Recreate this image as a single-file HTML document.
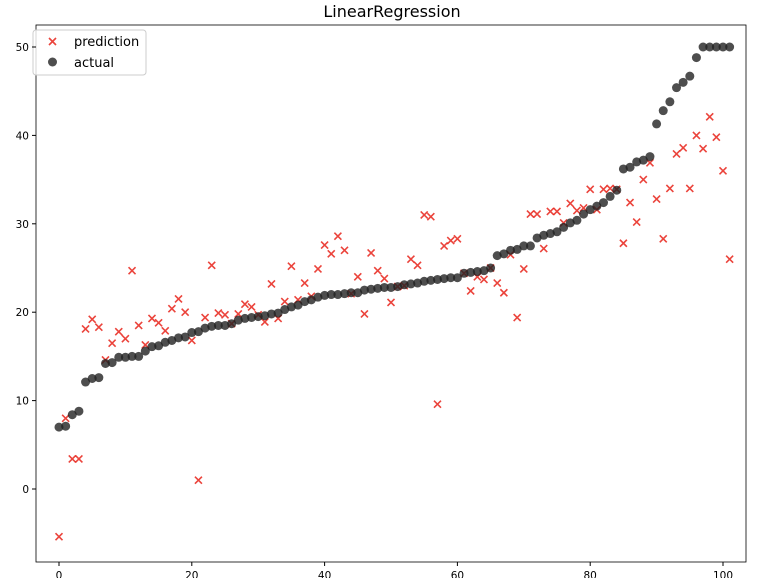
<!DOCTYPE html>
<html><head><meta charset="utf-8"><style>
body{margin:0;background:#fff;font-family:"Liberation Sans","DejaVu Sans",sans-serif}
svg text{font-family:"DejaVu Sans","Liberation Sans",sans-serif}
</style></head><body>
<svg id="chart" width="765" height="578" xmlns="http://www.w3.org/2000/svg">
<rect width="765" height="578" fill="#fff"/>
<text x="392" y="17" text-anchor="middle" font-size="16">LinearRegression</text>
<g id="plot"></g>
<rect x="36" y="25" width="710" height="537" fill="none" stroke="#000" stroke-width="0.8"/>
<g>
<rect x="33" y="30" width="113" height="45" rx="3" fill="#fff" fill-opacity="0.8" stroke="#ccc"/>
<g>
<path d="M49,38 l7,7 M56,38 l-7,7" stroke="#e8231a" stroke-opacity="0.85" stroke-width="1.6"/>
<text x="74" y="46" font-size="13">prediction</text></g>
<g>
<circle cx="52.5" cy="62" r="4.5" fill="#222" fill-opacity="0.8"/>
<text x="74" y="67" font-size="13">actual</text></g>
</g>
</svg>
<script>
const actual=[7.0,7.1,8.4,8.8,12.1,12.5,12.6,14.2,14.3,14.9,14.9,15.0,15.0,15.6,16.1,16.2,16.6,16.8,17.1,17.2,17.7,17.8,18.2,18.4,18.5,18.5,18.7,19.1,19.3,19.4,19.5,19.6,19.8,19.9,20.3,20.6,20.8,21.2,21.4,21.7,21.9,22.0,22.0,22.1,22.2,22.2,22.5,22.6,22.7,22.8,22.8,22.9,23.1,23.2,23.3,23.5,23.6,23.7,23.8,23.9,23.9,24.4,24.5,24.6,24.7,25.0,26.4,26.6,27.0,27.1,27.5,27.5,28.4,28.7,28.9,29.1,29.6,30.1,30.4,31.1,31.6,32.0,32.4,33.1,33.8,36.2,36.4,37.0,37.2,37.6,41.3,42.8,43.8,45.4,46.0,46.7,48.8,50,50,50,50,50];
const prediction=[-5.4,8.0,3.4,3.4,18.1,19.2,18.3,14.6,16.5,17.8,17.0,24.7,18.5,16.3,19.3,18.8,17.9,20.4,21.5,20.0,16.8,1.0,19.4,25.3,19.9,19.7,18.7,19.8,20.9,20.6,19.7,18.9,23.2,19.3,21.2,25.2,21.4,23.3,21.8,24.9,27.6,26.6,28.6,27.0,22.1,24.0,19.8,26.7,24.7,23.8,21.1,22.9,23.0,26.0,25.3,31.0,30.8,9.6,27.5,28.1,28.3,24.4,22.4,24.0,23.7,25.0,23.3,22.2,26.5,19.4,24.9,31.1,31.1,27.2,31.4,31.4,30.1,32.3,31.5,31.8,33.9,31.6,33.9,34.0,33.9,27.8,32.4,30.2,35.0,36.9,32.8,28.3,34.0,37.9,38.6,34.0,40.0,38.5,42.1,39.8,36.0,26.0];
const xTicks=[0,20,40,60,80,100];
const yTicks=[0,10,20,30,40,50];
const NS="http://www.w3.org/2000/svg";
const X=v=>59+v*6.64, Y=v=>489-v*8.84;
const svg=document.getElementById('chart'), g=document.getElementById('plot');
function mk(t,a,p){const e=document.createElementNS(NS,t);for(const k in a)e.setAttribute(k,a[k]);(p||g).appendChild(e);return e;}
xTicks.forEach(v=>{
 const t=mk('line',{x1:X(v),x2:X(v),y1:562,y2:566,stroke:'#000'},svg);
 
 
 const l=mk('text',{x:X(v),y:579,'text-anchor':'middle','font-size':'10.5'},svg);l.textContent=v;
 
 
});
yTicks.forEach(v=>{
 const t=mk('line',{x1:32,x2:36,y1:Y(v),y2:Y(v),stroke:'#000'},svg);
 
 
 const l=mk('text',{x:29,y:Y(v)+4,'text-anchor':'end','font-size':'10.5'},svg);l.textContent=v;
 
 
});
prediction.forEach((v,i)=>{
 const x=X(i),y=Y(v);
 const p=mk('path',{d:`M${x-3.5},${y-3.5} l7,7 M${x+3.5},${y-3.5} l-7,7`,stroke:'#e8231a','stroke-opacity':'0.85','stroke-width':'1.6'});
 
 
});
actual.forEach((v,i)=>{
 const c=mk('circle',{cx:X(i),cy:Y(v),r:4.5,fill:'#222','fill-opacity':'0.8'});
 
 
});
</script>
</body></html>
